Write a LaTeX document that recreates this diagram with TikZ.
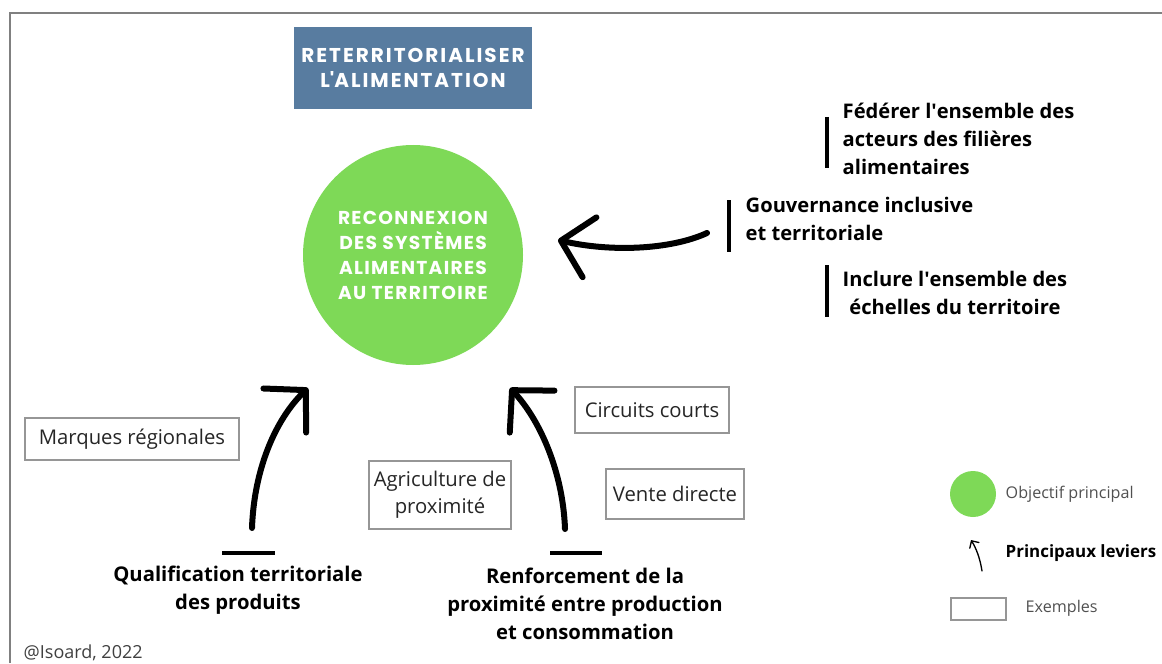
\documentclass[tikz,border=0pt]{standalone}
\usepackage{fontspec}
\setmainfont{Open Sans}
\newfontfamily\headfont{Poppins}[LetterSpace=10]
\newfontfamily\goalfont{Poppins}[LetterSpace=7]
\usetikzlibrary{arrows.meta,positioning}
\definecolor{title-blue}{RGB}{88,124,160}
\definecolor{goal-green}{RGB}{126,217,87}
\definecolor{box-gray}{RGB}{150,150,150}
\definecolor{legend-gray}{RGB}{80,80,80}
\tikzset{
    example-box/.style = {draw=box-gray, line width=1.3pt, fill=white, rectangle, text=black!85, font=\fontsize{15.2}{20}\selectfont, align=center, inner sep=2pt},
    lever-label/.style = {font=\bfseries\fontsize{15.2}{21}\selectfont, align=center},
    side-label/.style = {font=\bfseries\fontsize{15.1}{21}\selectfont, anchor=west},
    lever-arrow/.style = {line width=4.5pt, line cap=round, -{Straight Barb[length=22pt, width=46pt, line cap=round, line join=round]}},
    lever-bar/.style = {line width=2.5pt},
    goal-text/.style = {font=\goalfont\bfseries\fontsize{14}{18.75}\selectfont, text=white, align=center},
    legend-text/.style = {font=\fontsize{12.1}{14}\selectfont, text=legend-gray, anchor=west},
}
\begin{document}
\begin{tikzpicture}[x=0.75pt, y=-0.75pt]
\useasboundingbox (0,0) rectangle (1162,663);
\draw[gray, line width=1pt] (10,663) -- (10,13) -- (1162,13);

\node[fill=title-blue, minimum width=178pt, minimum height=61.5pt, goal-text, font=\headfont\bfseries\fontsize{15}{18.75}\selectfont] (title) at (413,68) {RETERRITORIALISER\\L\textquotesingle ALIMENTATION};

\node[circle, fill=goal-green, minimum size=165pt, inner sep=0pt, goal-text] (goal) at (413,255) {RECONNEXION\\DES SYSTÈMES\\ALIMENTAIRES\\AU TERRITOIRE};

\node[side-label, align=left] (federer) at (838,139) {Fédérer l\textquotesingle ensemble des\\acteurs des filières\\alimentaires};
\node[side-label, align=left] (gouv) at (741,219) {Gouvernance inclusive\\et territoriale};
\node[side-label, align=center] (inclure) at (838,293) {Inclure l\textquotesingle ensemble des\\échelles du territoire};
\draw[lever-bar] (827,117) -- (827,168);
\draw[lever-bar] (729,200) -- (729,252);
\draw[lever-bar] (827,265) -- (827,317);

\coordinate (gouv-tail) at (707,233);
\coordinate (gouv-head) at (558,240);
\draw[lever-arrow] (gouv-tail) .. controls (670,250) and (610,252) .. (gouv-head);

\node[example-box, minimum width=161pt, minimum height=31.5pt] (marques) at (132,439) {Marques régionales};
\node[example-box, minimum width=107pt, minimum height=51pt] (agri) at (440,495) {Agriculture de\\proximité};
\node[example-box, minimum width=115pt, minimum height=35pt] (circuits) at (652,410) {Circuits courts};
\node[example-box, minimum width=103.5pt, minimum height=37pt] (vente) at (675,494) {Vente directe};

\node[lever-label] (qualif) at (238,590) {Qualification territoriale\\des produits};
\node[lever-label] (renfo) at (585,604) {Renforcement de la\\proximité entre production\\et consommation};
\draw[lever-bar] (222,553) -- (275,553);
\draw[lever-bar] (550,553) -- (602,553);

\coordinate (qualif-tail) at (252,528);
\coordinate (qualif-head) at (308,388);
\coordinate (renfo-tail) at (565,529);
\coordinate (renfo-head) at (510,388);
\draw[lever-arrow] (qualif-tail) .. controls (254,470) and (275,420) .. (qualif-head);
\draw[lever-arrow] (renfo-tail) .. controls (563,472) and (540,420) .. (renfo-head);

\node[anchor=west, font=\fontsize{13.5}{15}\selectfont, text=black!75] (credit) at (19,653) {@Isoard, 2022};

\node[circle, fill=goal-green, minimum size=34.5pt, inner sep=0pt] (leg-goal) at (973,494) {};
\node[legend-text] (leg-goal-text) at (1001,494) {Objectif principal};
\coordinate (leg-tail) at (982,571);
\coordinate (leg-head) at (971,540);
\draw[line width=1pt, line cap=round, -{Straight Barb[length=4pt, width=8pt, line cap=round]}] (leg-tail) .. controls (980,558) and (976,548) .. (leg-head);
\node[legend-text, font=\bfseries\fontsize{12.7}{14}\selectfont, text=black] (leg-lever) at (1001,553) {Principaux leviers};
\node[draw=box-gray, line width=1.3pt, minimum width=41pt, minimum height=16.5pt, inner sep=0pt] (leg-box) at (978.5,609) {};
\node[legend-text] (leg-box-text) at (1021,608) {Exemples};
\end{tikzpicture}
\end{document}
